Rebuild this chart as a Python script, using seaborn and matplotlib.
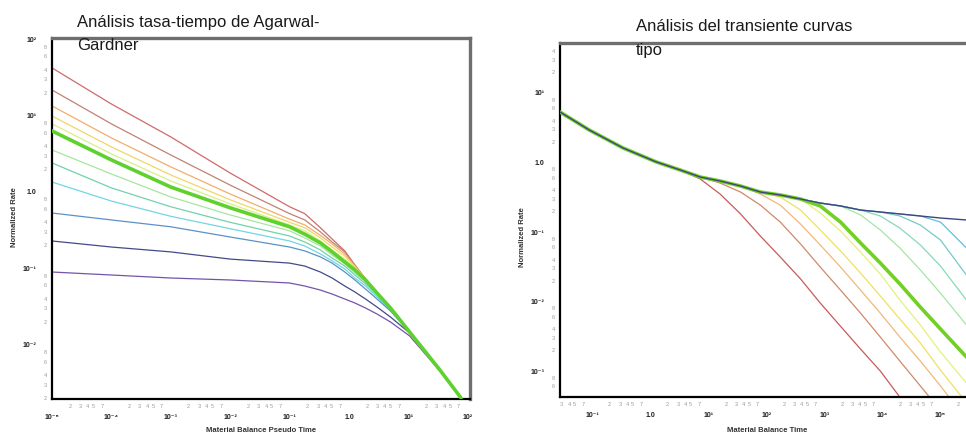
import numpy as np
import pandas as pd
import matplotlib
matplotlib.use("Agg")
import matplotlib.pyplot as plt
import seaborn as sns
from matplotlib.ticker import FixedLocator, FixedFormatter, FuncFormatter

# ---------------- Left chart: Agarwal-Gardner rate-time ----------------
ag_time = [1e-5, 1e-4, 1e-3, 1e-2, 0.1, 0.18, 0.33, 0.52, 0.85, 1.26, 1.9, 2.96, 5.0, 10.5, 34, 77]
ag_c1 = [42.2, 14.2, 5.26, 1.77, 0.64, 0.52, 0.34, 0.242, 0.169, 0.110, 0.0724, 0.0475, 0.0302, 0.0146, 0.00465, 0.0020]
ag_c2 = [21.7, 7.8, 3.05, 1.23, 0.52, 0.43, 0.30, 0.221, 0.164, 0.110, 0.0724, 0.0475, 0.0302, 0.0146, 0.00465, 0.0020]
ag_c3 = [13.4, 5.1, 2.13, 0.94, 0.44, 0.37, 0.27, 0.208, 0.154, 0.107, 0.0724, 0.0475, 0.0302, 0.0146, 0.00465, 0.0020]
ag_c4 = [9.9, 3.89, 1.67, 0.79, 0.40, 0.34, 0.25, 0.19, 0.145, 0.104, 0.0724, 0.0475, 0.0302, 0.0146, 0.00465, 0.0020]
ag_c5 = [7.8, 3.15, 1.39, 0.70, 0.37, 0.31, 0.228, 0.174, 0.132, 0.101, 0.0703, 0.0475, 0.0302, 0.0146, 0.00465, 0.0020]
ag_c6 = [6.3, 2.63, 1.16, 0.62, 0.35, 0.28, 0.215, 0.164, 0.121, 0.095, 0.0703, 0.0475, 0.0302, 0.0146, 0.00465, 0.0020]
ag_c7 = [3.55, 1.72, 0.86, 0.50, 0.31, 0.25, 0.196, 0.149, 0.114, 0.0868, 0.0661, 0.0460, 0.0302, 0.0146, 0.00465, 0.0020]
ag_c8 = [2.40, 1.13, 0.64, 0.40, 0.265, 0.221, 0.174, 0.136, 0.107, 0.0817, 0.0623, 0.0447, 0.0293, 0.0146, 0.00465, 0.0020]
ag_c9 = [1.35, 0.76, 0.48, 0.33, 0.228, 0.196, 0.154, 0.125, 0.098, 0.0746, 0.0586, 0.0421, 0.0284, 0.0146, 0.00465, 0.0020]
ag_c10 = [0.53, 0.43, 0.35, 0.257, 0.19, 0.169, 0.141, 0.117, 0.0894, 0.0703, 0.0535, 0.0396, 0.0276, 0.0146, 0.00465, 0.0020]
ag_c11 = [0.228, 0.19, 0.164, 0.132, 0.117, 0.107, 0.0894, 0.0746, 0.0586, 0.0489, 0.0396, 0.0311, 0.0230, 0.0142, 0.00465, 0.0020]
ag_c12 = [0.0894, 0.0817, 0.0746, 0.0703, 0.0642, 0.0586, 0.0519, 0.0460, 0.0396, 0.0351, 0.0302, 0.0252, 0.0198, 0.0130, 0.00451, 0.0020]

# ---------------- Right chart: transient type curves ----------------
tc_time = [0.028, 0.089, 0.34, 1.27, 3.3, 7.3, 16, 36, 79, 174, 390, 850, 1900, 4200, 9200,
           20000, 45000, 100000, 280000]
tc_c1 = [5.33, 2.94, 1.62, 1.02, 0.78, 0.579, 0.352, 0.182, 0.0875, 0.0437, 0.0211, 0.0095, 0.0044,
         0.00207, 0.0010, 0.00042, 0.00017, 0.000073, 0.0000237]
tc_c2 = [5.33, 2.94, 1.62, 1.02, 0.78, 0.618, 0.507, 0.376, 0.244, 0.139, 0.0671, 0.0313, 0.0146,
         0.0068, 0.00308, 0.00139, 0.00061, 0.00027, 0.000089]
tc_c3 = [5.33, 2.94, 1.62, 1.02, 0.78, 0.618, 0.542, 0.459, 0.352, 0.244, 0.130, 0.0650, 0.0313,
         0.0146, 0.0068, 0.00308, 0.00139, 0.00061, 0.00020]
tc_c4 = [5.33, 2.94, 1.62, 1.02, 0.78, 0.618, 0.542, 0.459, 0.376, 0.319, 0.207, 0.107, 0.0533,
         0.0257, 0.0120, 0.0056, 0.00253, 0.00103, 0.00035]
tc_c5 = [5.33, 2.94, 1.62, 1.02, 0.78, 0.618, 0.542, 0.459, 0.376, 0.341, 0.298, 0.188, 0.103,
         0.0515, 0.0249, 0.0105, 0.0046, 0.00188, 0.00067]
tc_c6 = [5.33, 2.94, 1.62, 1.02, 0.78, 0.618, 0.542, 0.459, 0.376, 0.341, 0.298, 0.237, 0.139,
         0.0695, 0.0358, 0.0179, 0.0083, 0.00402, 0.00159]
tc_c7 = [5.33, 2.94, 1.62, 1.02, 0.78, 0.618, 0.542, 0.459, 0.376, 0.341, 0.298, 0.261, 0.237,
         0.176, 0.107, 0.0589, 0.0284, 0.0132, 0.0046]
tc_c8 = [5.33, 2.94, 1.62, 1.02, 0.78, 0.618, 0.542, 0.459, 0.376, 0.341, 0.298, 0.261, 0.237,
         0.207, 0.170, 0.114, 0.0650, 0.0324, 0.0105]
tc_c9 = [5.33, 2.94, 1.62, 1.02, 0.78, 0.618, 0.542, 0.459, 0.376, 0.341, 0.298, 0.261, 0.237,
         0.207, 0.194, 0.170, 0.126, 0.0767, 0.0240]
tc_c10 = [5.33, 2.94, 1.62, 1.02, 0.78, 0.618, 0.542, 0.459, 0.376, 0.341, 0.298, 0.261, 0.237,
          0.207, 0.194, 0.182, 0.170, 0.139, 0.0589]
tc_env = [5.33, 2.94, 1.62, 1.02, 0.78, 0.618, 0.542, 0.459, 0.376, 0.341, 0.298, 0.261, 0.237,
          0.207, 0.194, 0.182, 0.170, 0.159, 0.149]

# ---------------- Text ----------------
title_left = ["Análisis tasa-tiempo de Agarwal-", "Gardner"]
title_right = ["Análisis del transiente curvas", "tipo"]
ylabel_text = "Normalized Rate"
xlabel_left = "Material Balance Pseudo Time"
xlabel_right = "Material Balance Time"

left_xmaj = [1e-5, 1e-4, 1e-3, 1e-2, 1e-1, 1.0, 10.0, 100.0]
left_xmaj_labels = ["10⁻⁵", "10⁻⁴", "10⁻³", "10⁻²", "10⁻¹", "1.0", "10¹", "10²"]
left_ymaj = [1e-2, 1e-1, 1.0, 10.0, 100.0]
left_ymaj_labels = ["10⁻²", "10⁻¹", "1.0", "10¹", "10²"]
right_xmaj = [1e-1, 1.0, 10.0, 100.0, 1e3, 1e4, 1e5]
right_xmaj_labels = ["10⁻¹", "1.0", "10¹", "10²", "10³", "10⁴", "10⁵"]
right_ymaj = [1e-3, 1e-2, 1e-1, 1.0, 10.0]
right_ymaj_labels = ["10⁻³", "10⁻²", "10⁻¹", "1.0", "10¹"]
x_minor_marks = [2, 3, 4, 5, 7]
y_minor_marks = [2, 3, 4, 6, 8]

left_colors = ["#cf6a6a", "#c08272", "#f2ad6a", "#efd766", "#d9ef86", "#5fd12e",
               "#a6e6a0", "#72d2aa", "#72d6e2", "#5a92c8", "#434a8a", "#7454aa"]
right_colors = ["#c85a5a", "#cf8a6a", "#f2b878", "#f0e060", "#e2f27a", "#72d024",
                "#a4e6a4", "#86dab6", "#74cac6", "#66bcda", "#3e4680"]

# ---------------- Figure ----------------
sns.set_style("white")
plt.rcParams["font.family"] = ["Liberation Sans", "DejaVu Sans"]

W, H = 966, 437
fig = plt.figure(figsize=(W / 100, H / 100), dpi=100)
fig.patch.set_facecolor("white")


def px_axes(x0, y_top, x1, y_bot):
    return fig.add_axes([x0 / W, 1 - y_bot / H, (x1 - x0) / W, (y_bot - y_top) / H])


def minor_fmt(marks):
    def f(v, pos):
        if v <= 0:
            return ""
        m = int(round(v / 10 ** np.floor(np.log10(v) + 1e-9)))
        return str(m) if m in marks else ""
    return FuncFormatter(f)


def minor_vals(lo, hi):
    vals = [m * 10.0 ** e for e in range(-7, 8) for m in range(2, 10)]
    return [v for v in vals if lo * 1.0001 <= v <= hi * 0.9999]


def style(ax, xmaj, xlab, ymaj, ylab, xlim, ylim, show_right=True):
    ax.set_xscale("log")
    ax.set_yscale("log")
    ax.set_xlim(*xlim)
    ax.set_ylim(*ylim)
    ax.xaxis.set_major_locator(FixedLocator(xmaj))
    ax.xaxis.set_major_formatter(FixedFormatter(xlab))
    ax.yaxis.set_major_locator(FixedLocator(ymaj))
    ax.yaxis.set_major_formatter(FixedFormatter(ylab))
    ax.xaxis.set_minor_locator(FixedLocator(minor_vals(*xlim)))
    ax.yaxis.set_minor_locator(FixedLocator(minor_vals(*ylim)))
    ax.xaxis.set_minor_formatter(minor_fmt(x_minor_marks))
    ax.yaxis.set_minor_formatter(minor_fmt(y_minor_marks))
    ax.tick_params(which="major", direction="inout", length=6, width=1.0, color="black",
                   labelsize=5, labelcolor="#222222")
    ax.tick_params(which="minor", direction="inout", length=3.5, width=0.7, color="black",
                   labelsize=4, labelcolor="#9a9a9a")
    ax.tick_params(axis="x", which="major", pad=7.5)
    ax.tick_params(axis="x", which="minor", pad=1.5)
    ax.tick_params(axis="y", which="major", pad=8)
    ax.tick_params(axis="y", which="minor", pad=2)
    for lab in ax.get_xticklabels() + ax.get_yticklabels():
        lab.set_fontweight("bold")
    ax.spines["left"].set_color("black")
    ax.spines["bottom"].set_color("black")
    ax.spines["left"].set_linewidth(1.6)
    ax.spines["bottom"].set_linewidth(1.6)
    for s in ("top", "right"):
        ax.spines[s].set_color("#6e6e6e")
        ax.spines[s].set_linewidth(2.4)
    ax.spines["right"].set_visible(show_right)
    ax.set_xlabel("")
    ax.set_ylabel("")
    ax.grid(False)


# Left axes
axL = px_axes(52, 38, 470, 399)
ag_curves = [ag_c1, ag_c2, ag_c3, ag_c4, ag_c5, ag_c6, ag_c7, ag_c8, ag_c9, ag_c10, ag_c11, ag_c12]
order = [i for i in range(12) if i != 5] + [5]
for i in order:
    lw = 2.6 if i == 5 else 0.9
    sns.lineplot(x=ag_time, y=ag_curves[i], ax=axL, color=left_colors[i], lw=lw,
                 estimator=None, sort=False, zorder=3 if i == 5 else 2)
style(axL, left_xmaj, left_xmaj_labels, left_ymaj, left_ymaj_labels,
      (1e-5, 109), (1.94e-3, 104))

# Right axes (cut by the right edge of the picture, as in the original)
axR = px_axes(560, 43, 966, 397)
tc_curves = [tc_c1, tc_c2, tc_c3, tc_c4, tc_c5, tc_c6, tc_c7, tc_c8, tc_c9, tc_c10, tc_env]
order = [0, 1, 2, 3, 4, 6, 7, 8, 9, 5, 10]
for i in order:
    lw = 2.6 if i == 5 else (1.0 if i == 10 else 0.9)
    sns.lineplot(x=tc_time, y=tc_curves[i], ax=axR, color=right_colors[i], lw=lw,
                 estimator=None, sort=False, zorder=4 if i == 10 else (3 if i == 5 else 2))
style(axR, right_xmaj, right_xmaj_labels, right_ymaj, right_ymaj_labels,
      (0.028, 2.75e5), (4.23e-4, 52.4), show_right=False)

# Titles
fig.text(77 / W, 1 - 27 / H, title_left[0], fontsize=12, color="#1a1a1a", va="baseline", ha="left")
fig.text(77 / W, 1 - 50 / H, title_left[1], fontsize=12, color="#1a1a1a", va="baseline", ha="left")
fig.text(636 / W, 1 - 31 / H, title_right[0], fontsize=12, color="#1a1a1a", va="baseline", ha="left")
fig.text(636 / W, 1 - 55 / H, title_right[1], fontsize=12, color="#1a1a1a", va="baseline", ha="left")

# Axis labels
fig.text(15 / W, 1 - 217 / H, ylabel_text, rotation=90, fontsize=5.5, fontweight="bold",
         color="#333333", ha="center", va="center")
fig.text(523 / W, 1 - 237 / H, ylabel_text, rotation=90, fontsize=5.5, fontweight="bold",
         color="#333333", ha="center", va="center")
fig.text(261 / W, 1 - 430 / H, xlabel_left, fontsize=5.5, fontweight="bold",
         color="#333333", ha="center", va="center")
fig.text(767 / W, 1 - 430 / H, xlabel_right, fontsize=5.5, fontweight="bold",
         color="#333333", ha="center", va="center")

fig.savefig("out.png", dpi=100, facecolor="white")
